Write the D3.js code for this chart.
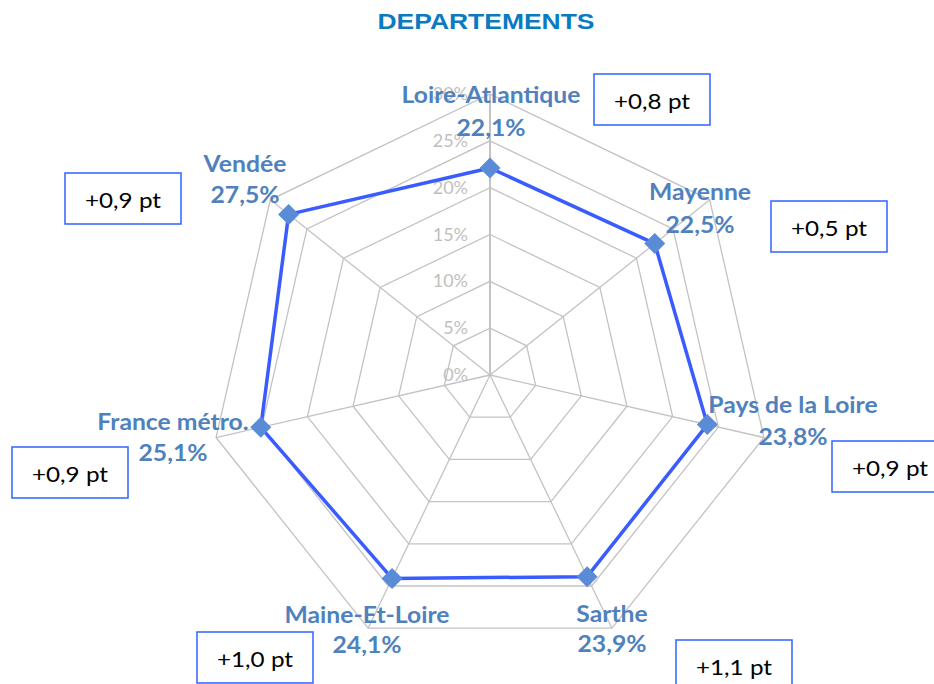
<!DOCTYPE html>
<html>
<head>
<meta charset="utf-8">
<script src="https://cdn.jsdelivr.net/npm/d3@7"></script>
<style>
  html, body { margin: 0; padding: 0; background: #ffffff; }
  svg { display: block; }
</style>
</head>
<body>
<svg id="chart" width="934" height="684"></svg>
<script>
// Categories, clockwise from the top axis
const categories = ["Loire-Atlantique", "Mayenne", "Pays de la Loire", "Sarthe", "Maine-Et-Loire", "France métro.", "Vendée"];
// Share (%) per territory
const values = [22.1, 22.5, 23.8, 23.9, 24.1, 25.1, 27.5];
// Change over the period, in points
const changes = ["+0,8 pt", "+0,5 pt", "+0,9 pt", "+1,1 pt", "+1,0 pt", "+0,9 pt", "+0,9 pt"];
// Radial ticks (%)
const ticks = [0, 5, 10, 15, 20, 25, 30];
const title = "DEPARTEMENTS";

// Layout: label anchors (centre x, baseline of name, baseline of value) and annotation boxes (left, top)
const labelAnchors = [[491, 103, 136], [700, 200, 233], [793, 413, 445], [612, 622, 652], [367, 623, 653], [173, 430, 461], [245, 172, 203]];
const boxAnchors = [[594, 74], [771, 201], [832, 441], [676, 640], [197, 632], [12, 447], [65, 173]];
const boxW = 116, boxH = 51;

const svg = d3.select("#chart");
const cx = 490, cy = 375, R = 281;
const n = categories.length;

const r = d3.scaleLinear().domain([0, 30]).range([0, R]);
const angle = d3.scaleLinear().domain([0, n]).range([0, 2 * Math.PI]);
const pt = (i, v) => [cx + r(v) * Math.sin(angle(i)), cy - r(v) * Math.cos(angle(i))];

const fmt = v => d3.format(".1f")(v).replace(".", ",") + "%";

// Grid rings
const gridG = svg.append("g");
ticks.filter(t => t > 0).forEach(t => {
  gridG.append("path")
    .attr("d", d3.line()(d3.range(n).map(i => pt(i, t))) + "Z")
    .attr("fill", "none")
    .attr("stroke", "#c3c3c3")
    .attr("stroke-width", 1.3);
});
// Spokes
d3.range(n).forEach(i => {
  const [x, y] = pt(i, 30);
  gridG.append("line")
    .attr("x1", cx).attr("y1", cy).attr("x2", x).attr("y2", y)
    .attr("stroke", "#c3c3c3")
    .attr("stroke-width", i === 0 ? 2 : 1.3);
});

// Radial tick labels
svg.append("g").selectAll("text").data(ticks).join("text")
  .attr("x", 468)
  .attr("y", d => cy - r(d) + 6)
  .attr("text-anchor", "end")
  .attr("font-family", "Lato, 'Open Sans', sans-serif")
  .attr("font-size", 18)
  .attr("fill", "#bfbfbf")
  .text(d => d + "%");

// Series polygon
svg.append("path")
  .attr("d", d3.line()(values.map((v, i) => pt(i, v))) + "Z")
  .attr("fill", "none")
  .attr("stroke", "#3a5cff")
  .attr("stroke-width", 3.5)
  .attr("stroke-linejoin", "round");

// Diamond markers
svg.append("g").selectAll("path").data(values).join("path")
  .attr("transform", (v, i) => { const [x, y] = pt(i, v); return `translate(${x},${y})`; })
  .attr("d", "M0,-10.5L10.5,0L0,10.5L-10.5,0Z")
  .attr("fill", "#5a8bd6");

// Category labels: name and value
const labelFont = "Lato, 'Open Sans', sans-serif";
const labG = svg.append("g")
  .attr("font-family", labelFont)
  .attr("font-weight", "bold")
  .attr("font-size", 22.5)
  .attr("fill", "#4f81bd")
  .attr("text-anchor", "middle");
const probe = labG.append("text").text(categories[0]);
const sx = 179 / probe.node().getComputedTextLength();
probe.remove();
categories.forEach((c, i) => {
  const [x, y1, y2] = labelAnchors[i];
  [[c, y1], [fmt(values[i]), y2]].forEach(([s, y]) => {
    const t = labG.append("text").attr("x", x).attr("y", y).text(s);
    const w = t.node().getComputedTextLength();
    t.attr("textLength", w * sx).attr("lengthAdjust", "spacingAndGlyphs");
  });
});

// Annotation boxes with the change in points
const boxG = svg.append("g");
changes.forEach((c, i) => {
  const [x, y] = boxAnchors[i];
  boxG.append("rect")
    .attr("x", x).attr("y", y).attr("width", boxW).attr("height", boxH)
    .attr("fill", "#ffffff")
    .attr("stroke", "#3d6cff")
    .attr("stroke-width", 1.6);
  boxG.append("text")
    .attr("x", x + boxW / 2).attr("y", y + 35)
    .attr("text-anchor", "middle")
    .attr("font-family", labelFont)
    .attr("font-size", 22)
    .attr("fill", "#000000")
    .attr("textLength", 76)
    .attr("lengthAdjust", "spacingAndGlyphs")
    .text(c);
});

// Title
svg.append("text")
  .attr("x", 486).attr("y", 29)
  .attr("text-anchor", "middle")
  .attr("font-family", "'Liberation Sans', Arial, sans-serif")
  .attr("font-weight", "bold")
  .attr("font-size", 22.5)
  .attr("fill", "#0b7bc1")
  .attr("textLength", 217)
  .attr("lengthAdjust", "spacingAndGlyphs")
  .text(title);
</script>
</body>
</html>
